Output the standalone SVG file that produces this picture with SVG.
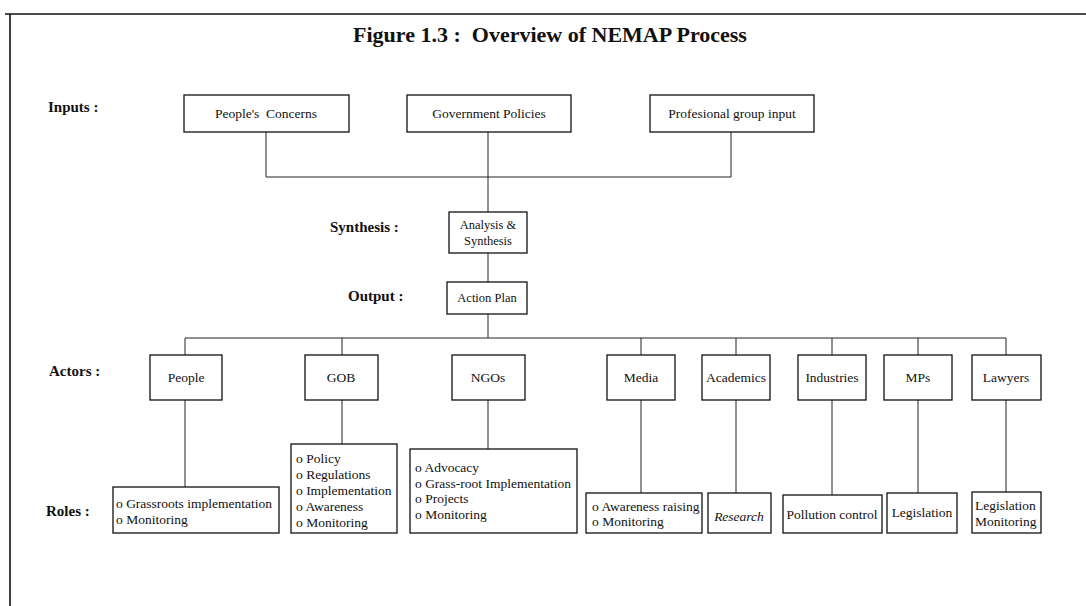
<svg xmlns="http://www.w3.org/2000/svg" width="1086" height="606" viewBox="0 0 1086 606">
  <style>
    .box { fill: #ffffff; stroke: #111111; stroke-width: 1.3; }
    .wire { fill: none; stroke: #222222; stroke-width: 1; }
    .frame { fill: none; stroke: #111111; stroke-width: 1.6; }
    .title { font-family: "Liberation Serif", "Times New Roman", serif; font-size: 22px; font-weight: bold; fill: #111111; }
    .label { font-family: "Liberation Serif", "Times New Roman", serif; font-size: 15px; font-weight: bold; fill: #111111; }
    .t { font-family: "Liberation Serif", "Times New Roman", serif; font-size: 13.5px; fill: #111111; }
    .s { font-size: 12.5px; }
    .c { text-anchor: middle; }
    .it { font-style: italic; }
  </style>

  <rect width="1086" height="606" fill="#ffffff"/>

  <!-- page frame -->
  <path class="frame" d="M5 14 H1086 M10 14 V606"/>

  <text class="title c" x="550" y="42" xml:space="preserve">Figure 1.3 :  Overview of NEMAP Process</text>

  <!-- row labels -->
  <text class="label" x="48" y="112">Inputs :</text>
  <text class="label" x="330" y="232">Synthesis :</text>
  <text class="label" x="348" y="301">Output :</text>
  <text class="label" x="49" y="376">Actors :</text>
  <text class="label" x="46" y="516">Roles :</text>

  <!-- connectors -->
  <g id="connectors">
    <path class="wire" d="M266 132 V177 H731 V132"/>
    <path class="wire" d="M488 132 V212"/>
    <path class="wire" d="M488 253 V282"/>
    <path class="wire" d="M488 314 V338"/>
    <path class="wire" d="M185 355 V338 H1006 V355"/>
    <path class="wire" d="M342 338 V355 M641 338 V355 M736 338 V355 M832 338 V355 M918 338 V355"/>
    <path class="wire" d="M185 400 V487 M342 400 V444 M488 400 V449 M641 400 V493 M736 400 V493 M832 400 V495 M918 400 V493 M1006 400 V492"/>
  </g>

  <!-- inputs -->
  <g id="input-people">
    <rect class="box" x="184" y="95" width="165" height="37"/>
    <text class="t c" x="266" y="118" xml:space="preserve">People's  Concerns</text>
  </g>
  <g id="input-government">
    <rect class="box" x="407" y="95" width="164" height="37"/>
    <text class="t c" x="489" y="118">Government Policies</text>
  </g>
  <g id="input-professional">
    <rect class="box" x="650" y="95" width="164" height="37"/>
    <text class="t c" x="732" y="118">Profesional group input</text>
  </g>

  <!-- synthesis and output -->
  <g id="synthesis">
    <rect class="box" x="449" y="212" width="78" height="41"/>
    <text class="t s c" x="488" y="229">Analysis &amp;</text>
    <text class="t s c" x="488" y="245">Synthesis</text>
  </g>
  <g id="action-plan">
    <rect class="box" x="447" y="282" width="80" height="32"/>
    <text class="t s c" x="487" y="302">Action Plan</text>
  </g>

  <!-- actors -->
  <g id="actor-people">
    <rect class="box" x="150" y="355" width="72" height="45"/>
    <text class="t c" x="186" y="382">People</text>
  </g>
  <g id="actor-gob">
    <rect class="box" x="305" y="355" width="73" height="45"/>
    <text class="t c" x="341" y="382">GOB</text>
  </g>
  <g id="actor-ngos">
    <rect class="box" x="452" y="355" width="73" height="45"/>
    <text class="t c" x="488" y="382">NGOs</text>
  </g>
  <g id="actor-media">
    <rect class="box" x="607" y="355" width="68" height="45"/>
    <text class="t c" x="641" y="382">Media</text>
  </g>
  <g id="actor-academics">
    <rect class="box" x="702" y="355" width="68" height="45"/>
    <text class="t c" x="736" y="382">Academics</text>
  </g>
  <g id="actor-industries">
    <rect class="box" x="798" y="355" width="68" height="45"/>
    <text class="t c" x="832" y="382">Industries</text>
  </g>
  <g id="actor-mps">
    <rect class="box" x="884" y="355" width="68" height="45"/>
    <text class="t c" x="918" y="382">MPs</text>
  </g>
  <g id="actor-lawyers">
    <rect class="box" x="972" y="355" width="69" height="45"/>
    <text class="t c" x="1006" y="382">Lawyers</text>
  </g>

  <!-- roles -->
  <g id="role-people">
    <rect class="box" x="113" y="487" width="166" height="46"/>
    <text class="t" x="116" y="508">o Grassroots implementation</text>
    <text class="t" x="116" y="524">o Monitoring</text>
  </g>
  <g id="role-gob">
    <rect class="box" x="291" y="444" width="106" height="89"/>
    <text class="t" x="296" y="463">o Policy</text>
    <text class="t" x="296" y="479">o Regulations</text>
    <text class="t" x="296" y="495">o Implementation</text>
    <text class="t" x="296" y="511">o Awareness</text>
    <text class="t" x="296" y="527">o Monitoring</text>
  </g>
  <g id="role-ngos">
    <rect class="box" x="410" y="449" width="167" height="84"/>
    <text class="t" x="415" y="472">o Advocacy</text>
    <text class="t" x="415" y="488">o Grass-root Implementation</text>
    <text class="t" x="415" y="503">o Projects</text>
    <text class="t" x="415" y="519">o Monitoring</text>
  </g>
  <g id="role-media">
    <rect class="box" x="586" y="493" width="116" height="40"/>
    <text class="t" x="592" y="511">o Awareness raising</text>
    <text class="t" x="592" y="526">o Monitoring</text>
  </g>
  <g id="role-academics">
    <rect class="box" x="708" y="493" width="63" height="40"/>
    <text class="t c it" x="739" y="521">Research</text>
  </g>
  <g id="role-industries">
    <rect class="box" x="783" y="495" width="99" height="38"/>
    <text class="t c" x="832" y="519">Pollution control</text>
  </g>
  <g id="role-mps">
    <rect class="box" x="887" y="493" width="70" height="40"/>
    <text class="t c" x="922" y="517">Legislation</text>
  </g>
  <g id="role-lawyers">
    <rect class="box" x="972" y="492" width="69" height="41"/>
    <text class="t" x="975" y="510">Legislation</text>
    <text class="t" x="975" y="526">Monitoring</text>
  </g>
</svg>
